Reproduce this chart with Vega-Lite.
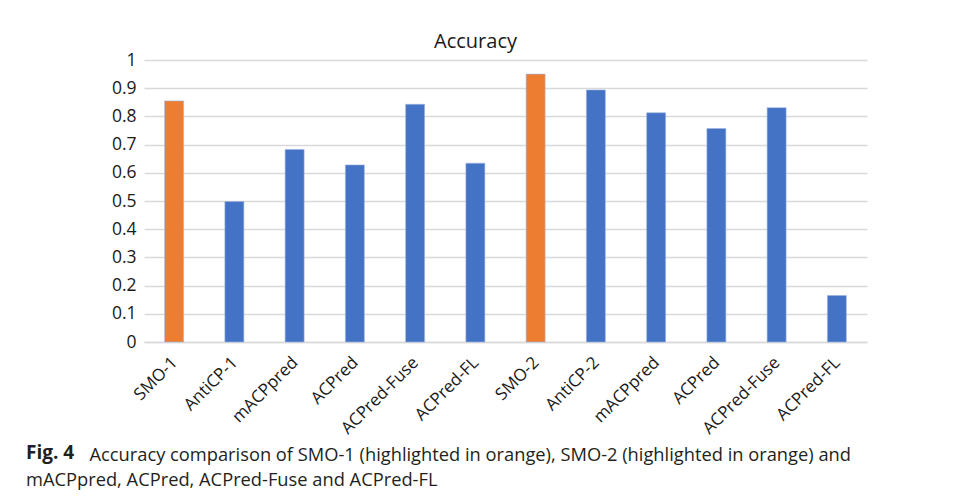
{
  "$schema": "https://vega.github.io/schema/vega-lite/v6.json",
  "width": 723,
  "height": 282,
  "autosize": {"type": "none"},
  "padding": {"left": 144, "top": 60, "right": 91, "bottom": 155},
  "background": "white",
  "title": {
    "text": "Fig. 4",
    "subtitle": "mACPpred, ACPred, ACPred-Fuse and ACPred-FL",
    "orient": "top",
    "anchor": "start",
    "frame": "group",
    "font": "Open Sans",
    "fontSize": 19,
    "fontWeight": "bold",
    "color": "#231f20",
    "subtitleFont": "Open Sans",
    "subtitleFontSize": 18.3,
    "subtitleFontWeight": "normal",
    "subtitleColor": "#231f20",
    "subtitlePadding": 9,
    "offset": 0,
    "dx": -118,
    "dy": 458
  },
  "data": {
    "values": [
      {"id": "SMO-1#1", "group": "SMO", "accuracy": 0.855},
      {"id": "AntiCP-1#2", "group": "other", "accuracy": 0.498},
      {"id": "mACPpred#3", "group": "other", "accuracy": 0.683},
      {"id": "ACPred#4", "group": "other", "accuracy": 0.628},
      {"id": "ACPred-Fuse#5", "group": "other", "accuracy": 0.843},
      {"id": "ACPred-FL#6", "group": "other", "accuracy": 0.634},
      {"id": "SMO-2#7", "group": "SMO", "accuracy": 0.950},
      {"id": "AntiCP-2#8", "group": "other", "accuracy": 0.894},
      {"id": "mACPpred#9", "group": "other", "accuracy": 0.813},
      {"id": "ACPred#10", "group": "other", "accuracy": 0.757},
      {"id": "ACPred-Fuse#11", "group": "other", "accuracy": 0.831},
      {"id": "ACPred-FL#12", "group": "other", "accuracy": 0.165}
    ]
  },
  "mark": {"type": "bar", "stroke": "#9fb6e3", "strokeWidth": 0.6},
  "encoding": {
    "x": {
      "field": "id",
      "type": "nominal",
      "sort": null,
      "scale": {"paddingInner": 0.685, "paddingOuter": 0.3425},
      "axis": {
        "labelExpr": "split(datum.value, '#')[0]",
        "labelAngle": -45,
        "labelFont": "Open Sans",
        "labelFontSize": 17,
        "labelColor": "#1a1a1a",
        "labelPadding": 12,
        "labelOffset": -5,
        "ticks": false,
        "domain": true,
        "domainColor": "#d9d9d9",
        "domainWidth": 1.5,
        "title": "Accuracy comparison of SMO-1 (highlighted in orange), SMO-2 (highlighted in orange) and",
        "titleFont": "Open Sans",
        "titleFontSize": 18.3,
        "titleFontWeight": "normal",
        "titleColor": "#231f20",
        "titleAnchor": "start",
        "titleAlign": "left",
        "titleBaseline": "alphabetic",
        "titleX": -55,
        "titleY": 118
      }
    },
    "y": {
      "field": "accuracy",
      "type": "quantitative",
      "scale": {"domain": [0, 1]},
      "axis": {
        "values": [0, 0.1, 0.2, 0.3, 0.4, 0.5, 0.6, 0.7, 0.8, 0.9, 1],
        "labelExpr": "format(datum.value, '.1~f')",
        "labelFont": "Open Sans",
        "labelFontSize": 17.5,
        "labelColor": "#1a1a1a",
        "labelPadding": 8,
        "ticks": false,
        "domain": false,
        "grid": true,
        "gridColor": "#d9d9d9",
        "gridWidth": 1.5,
        "title": "Accuracy",
        "titleFont": "Open Sans",
        "titleFontSize": 20,
        "titleFontWeight": "normal",
        "titleColor": "#1a1a1a",
        "titleAngle": 0,
        "titleAlign": "center",
        "titleBaseline": "alphabetic",
        "titleX": 331,
        "titleY": -13
      }
    },
    "color": {
      "field": "group",
      "type": "nominal",
      "scale": {"domain": ["SMO", "other"], "range": ["#ed7d31", "#4472c4"]},
      "legend": null
    }
  },
  "config": {"view": {"stroke": null}}
}
